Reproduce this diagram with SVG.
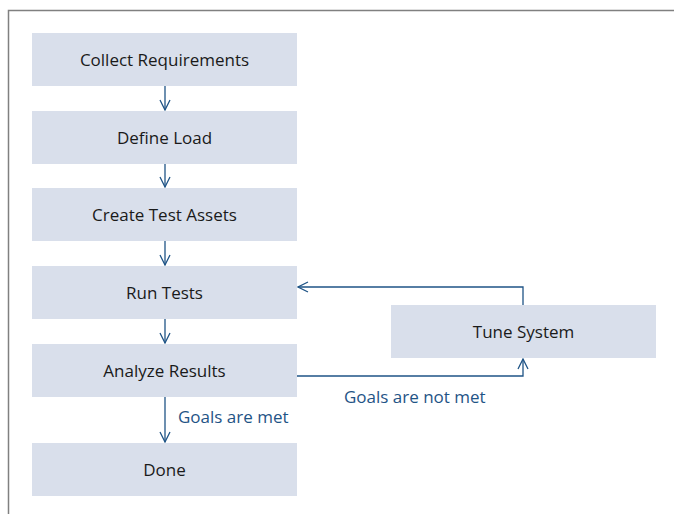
<svg xmlns="http://www.w3.org/2000/svg" width="674" height="514" viewBox="0 0 674 514">
<defs>
<marker id="arr" viewBox="0 0 12 12" refX="11" refY="6" markerWidth="12" markerHeight="12" markerUnits="userSpaceOnUse" orient="auto">
<path d="M1,1 L11,6 L1,11" fill="none" stroke="#1f5486" stroke-width="1.3"/>
</marker>
<style>
.box{fill:#d9dfeb}
.lbl{font-family:"Open Sans","Noto Sans",sans-serif;font-size:17px;fill:#1a1a1a;text-anchor:middle}
.edge{fill:none;stroke:#1f5486;stroke-width:1.3;marker-end:url(#arr)}
.elbl{font-family:"Open Sans","Noto Sans",sans-serif;font-size:17px;fill:#1f5486}
</style>
</defs>
<rect width="674" height="514" fill="#fff"/>
<path d="M8.5,514 V10.5 H674" fill="none" stroke="#808080" stroke-width="1.5"/>
<g id="collect"><rect class="box" x="32" y="33" width="265" height="53"/><text class="lbl" x="164.5" y="66">Collect Requirements</text></g>
<g id="define"><rect class="box" x="32" y="111" width="265" height="53"/><text class="lbl" x="164.5" y="144">Define Load</text></g>
<g id="create"><rect class="box" x="32" y="188" width="265" height="53"/><text class="lbl" x="164.5" y="221">Create Test Assets</text></g>
<g id="run"><rect class="box" x="32" y="266" width="265" height="53"/><text class="lbl" x="164.5" y="299">Run Tests</text></g>
<g id="analyze"><rect class="box" x="32" y="344" width="265" height="53"/><text class="lbl" x="164.5" y="377">Analyze Results</text></g>
<g id="done"><rect class="box" x="32" y="443" width="265" height="53"/><text class="lbl" x="164.5" y="476">Done</text></g>
<g id="tune"><rect class="box" x="391" y="305" width="265" height="53"/><text class="lbl" x="523.5" y="338">Tune System</text></g>
<g id="connectors">
<path class="edge" d="M165,86 V110"/>
<path class="edge" d="M165,164 V187"/>
<path class="edge" d="M165,241 V265"/>
<path class="edge" d="M165,319 V343"/>
<path class="edge" d="M165,397 V442"/>
<path class="edge" d="M297,376 H523 V359"/>
<path class="edge" d="M523,305 V287 H298"/>
<text class="elbl" x="178" y="423">Goals are met</text>
<text class="elbl" x="344" y="403">Goals are not met</text>
</g>
</svg>
